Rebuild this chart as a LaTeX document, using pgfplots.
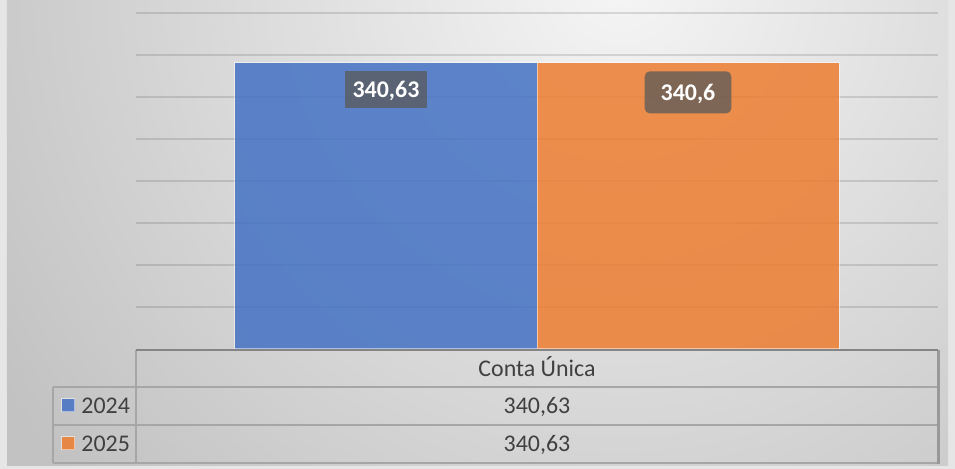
\documentclass[border=0pt]{standalone}
\usepackage{pgfplots}
\pgfplotsset{compat=1.18}
\usepackage{fontspec}
\setmainfont{Carlito}
\definecolor{barblue}{HTML}{4472C4}
\definecolor{barorange}{HTML}{ED7D31}
\definecolor{lbl}{HTML}{595959}
\definecolor{tabline}{HTML}{A6A6A6}
\definecolor{tabright}{HTML}{999999}
\definecolor{axisline}{HTML}{858585}
\definecolor{txt}{HTML}{404040}
\definecolor{bgin}{HTML}{F5F5F5}
\definecolor{bgout}{HTML}{C2C2C2}
\definecolor{frame}{HTML}{E6E6E6}
\begin{document}
\begin{tikzpicture}
\begin{scope}[shift={(-68bp,174.5bp)},x=0.5bp,y=-0.5bp]
  \path[use as bounding box] (0,0) rectangle (955,469);
  \fill[frame] (0,0) rectangle (955,469);
  \begin{scope}
    \clip (7,0) rectangle (948,466);
    \fill[bgout] (7,0) rectangle (948,466);
    \shade[inner color=bgin, outer color=bgout] (620,-20) circle (740);
  \end{scope}
  \foreach \gy in {13,55,97,139,181,223,265,307}
    \draw[black, opacity=0.12, line width=1bp] (136,\gy) -- (938,\gy);
\end{scope}
\begin{axis}[
  at={(0,0)}, anchor=south west,
  scale only axis, width=401bp, height=168bp,
  xmin=-0.5, xmax=0.5, ymin=0, ymax=400,
  axis line style={draw=none},
  xtick=\empty, ytick=\empty, major tick length=0pt,
  clip=false,
  point meta=explicit symbolic,
]
\addplot[ybar, fill=barblue, fill opacity=0.85, draw=white, draw opacity=0.5, line width=0.5bp,
  bar width=0.3766, bar shift=0,
  nodes near coords,
  every node near coord/.style={anchor=north, yshift=-4bp, fill=lbl, fill opacity=0.75, text opacity=1, draw=none,
    text=white, font=\bfseries\fontsize{12}{14}\selectfont, inner xsep=4bp, inner ysep=0pt,
    text height=7.7bp, text depth=0pt, minimum height=18.5bp}]
  coordinates {(-0.1883,340.63) [340,63]};
\addplot[ybar, fill=barorange, fill opacity=0.85, draw=white, draw opacity=0.5, line width=0.5bp,
  bar width=0.3766, bar shift=0,
  nodes near coords,
  every node near coord/.style={anchor=north, yshift=-4bp, fill=lbl, fill opacity=0.75, text opacity=1, draw=none,
    rounded corners=2.5bp,
    text=white, font=\bfseries\fontsize{12}{14}\selectfont, inner xsep=8bp, inner ysep=0pt,
    text height=7.7bp, text depth=0pt, minimum height=21bp}]
  coordinates {(0.1883,340.63) [340,6]};
\end{axis}
\begin{scope}[shift={(-68bp,174.5bp)},x=0.5bp,y=-0.5bp]
  \draw[tabline, line width=1bp] (53,387) -- (938,387) (53,425) -- (938,425) (53,463) -- (938,463);
  \draw[tabline, line width=1bp] (136,350) -- (136,463) (53,387) -- (53,463);
  \draw[tabright, line width=1.5bp] (938,350) -- (938,464);
  \draw[axisline, line width=1.2bp] (136,350) -- (938,350);
  \node[txt, font=\fontsize{12}{14}\selectfont, anchor=base, inner sep=0pt] at (537,376.5) {Conta Única};
  \node[txt, font=\fontsize{12}{14}\selectfont, anchor=base, inner sep=0pt] at (537,414) {340,63};
  \node[txt, font=\fontsize{12}{14}\selectfont, anchor=base, inner sep=0pt] at (537,452) {340,63};
  \fill[barblue, fill opacity=0.85, draw=white, draw opacity=0.5, line width=0.5bp] (62,399) rectangle (75,412);
  \fill[barorange, fill opacity=0.85, draw=white, draw opacity=0.5, line width=0.5bp] (62,437) rectangle (75,450);
  \node[txt, font=\fontsize{12}{14}\selectfont, anchor=base west, inner sep=0pt] at (81,414) {2024};
  \node[txt, font=\fontsize{12}{14}\selectfont, anchor=base west, inner sep=0pt] at (81,452) {2025};
\end{scope}
\end{tikzpicture}
\end{document}
